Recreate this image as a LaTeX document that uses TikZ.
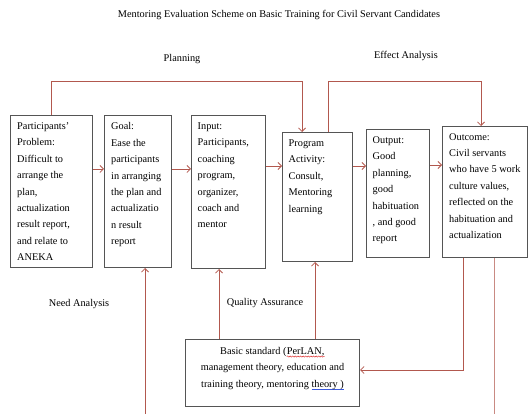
\documentclass[tikz,border=0pt]{standalone}
\usepackage{fontspec}
\setmainfont{Liberation Serif}
\usetikzlibrary{arrows.meta,calc,decorations.pathmorphing}
\definecolor{linecol}{RGB}{178,88,78}
\definecolor{boxgray}{RGB}{85,85,85}
\definecolor{spellred}{RGB}{220,40,40}
\definecolor{spellblue}{RGB}{60,90,220}
\newsavebox\myulbox
\newcommand\myblueul[1]{\sbox\myulbox{#1}\rlap{\textcolor{spellblue}{\rule[-2pt]{\wd\myulbox}{0.6pt}}}\usebox\myulbox}
\newcommand\myredwave[1]{\tikz[baseline=(pw.base)]{\node[inner sep=0pt, anchor=base] (pw) {#1};
  \draw[spellred, line width=0.45pt, decorate, decoration={snake, amplitude=0.6pt, segment length=2.6pt}] ([yshift=-2.2pt]pw.base west) -- ([yshift=-2.2pt]pw.base east);}}
\tikzset{
  box/.style={draw=boxgray, line width=1pt, inner sep=0pt, anchor=north west, fill=white},
  txt/.style={inner sep=0pt, anchor=north west, align=left, font=\fontsize{10.3}{16.4}\selectfont},
  lbl/.style={inner sep=0pt, font=\fontsize{10.3}{12}\selectfont},
  conn/.style={draw=linecol, line width=0.8pt, -{Straight Barb[length=3.5pt,width=7pt]}},
  plainline/.style={draw=linecol!70, line width=0.8pt}
}
\begin{document}
\begin{tikzpicture}[x=1pt,y=-1pt]
\useasboundingbox (0,0) rectangle (528,414);
% title and labels
\node[lbl] (title) at (279,15) {Mentoring Evaluation Scheme on Basic Training for Civil Servant Candidates};
\node[lbl] (plan) at (182,59) {Planning};
\node[lbl] (eff) at (406,56) {Effect Analysis};
\node[lbl] (need) at (79,304) {Need Analysis};
\node[lbl] (qual) at (265,303) {Quality Assurance};
% boxes
\node[box, minimum width=82pt, minimum height=152pt] (P) at (10,115) {};
\node[txt] (Pt) at ($(P.north west)+(7,7.5)$) {Participants'\\Problem:\\Difficult to\\arrange the\\plan,\\actualization\\result report,\\and relate to\\ANEKA};
\node[box, minimum width=67pt, minimum height=152pt] (G) at (104,115) {};
\node[txt] (Gt) at ($(G.north west)+(7,7.5)$) {Goal:\\Ease the\\participants\\in arranging\\the plan and\\actualizatio\\n result\\report};
\node[box, minimum width=74pt, minimum height=153pt] (I) at (191,115) {};
\node[txt] (It) at ($(I.north west)+(6.5,7.5)$) {Input:\\Participants,\\coaching\\program,\\organizer,\\coach and\\mentor};
\node[box, minimum width=70pt, minimum height=129pt] (R) at (282,132) {};
\node[txt] (Rt) at ($(R.north west)+(6.5,7.5)$) {Program\\Activity:\\Consult,\\Mentoring\\learning};
\node[box, minimum width=63pt, minimum height=128pt] (U) at (366,129) {};
\node[txt] (Ut) at ($(U.north west)+(6.5,7.5)$) {Output:\\Good\\planning,\\good\\habituation\\, and good\\report};
\node[box, minimum width=85pt, minimum height=131pt] (O) at (442,126) {};
\node[txt] (Ot) at ($(O.north west)+(7,7)$) {Outcome:\\Civil servants\\who have 5 work\\culture values,\\reflected on the\\habituation and\\actualization};
\node[box, minimum width=174pt, minimum height=67pt] (B) at (185,339) {};
\node[txt, anchor=north, align=center] (Bt) at ($(B.north)+(0,8)$) {Basic standard (\myredwave{PerLAN,}\\management theory, education and\\training theory, mentoring \myblueul{theory )}};
% helper coordinates
\coordinate (y169) at (0,169);
\coordinate (y166) at (0,166);
\coordinate (y165) at (0,165);
\coordinate (plA) at (302,81);
\coordinate (efL) at (328,81);
\coordinate (efR) at (481,81);
\coordinate (gb) at (145,414);
\coordinate (qa1) at (219,0);
\coordinate (qa2) at (315,0);
\coordinate (oc1) at (463,370);
\coordinate (oc2) at (494,414);
% horizontal flow
\draw[conn] (P.east |- y169) -- (G.west |- y169);
\draw[conn] (G.east |- y169) -- (I.west |- y169);
\draw[conn] (I.east |- y166) -- (R.west |- y166);
\draw[conn] (R.east |- y166) -- (U.west |- y166);
\draw[conn] (U.east |- y165) -- (O.west |- y165);
% planning and effect loops
\draw[conn] (P.north) |- (plA) -- (R.north -| plA);
\draw[conn] (R.north -| efL) -- (efL) -- (efR) -- (O.north -| efR);
% bottom connectors
\draw[conn] (gb) -- (G.south -| gb);
\draw[conn] (B.north -| qa1) -- (I.south -| qa1);
\draw[conn] (B.north -| qa2) -- (R.south -| qa2);
\draw[conn] (O.south -| oc1) -- (oc1) -- (B.east |- oc1);
\draw[plainline] (O.south -| oc2) -- (oc2);
\end{tikzpicture}
\end{document}
